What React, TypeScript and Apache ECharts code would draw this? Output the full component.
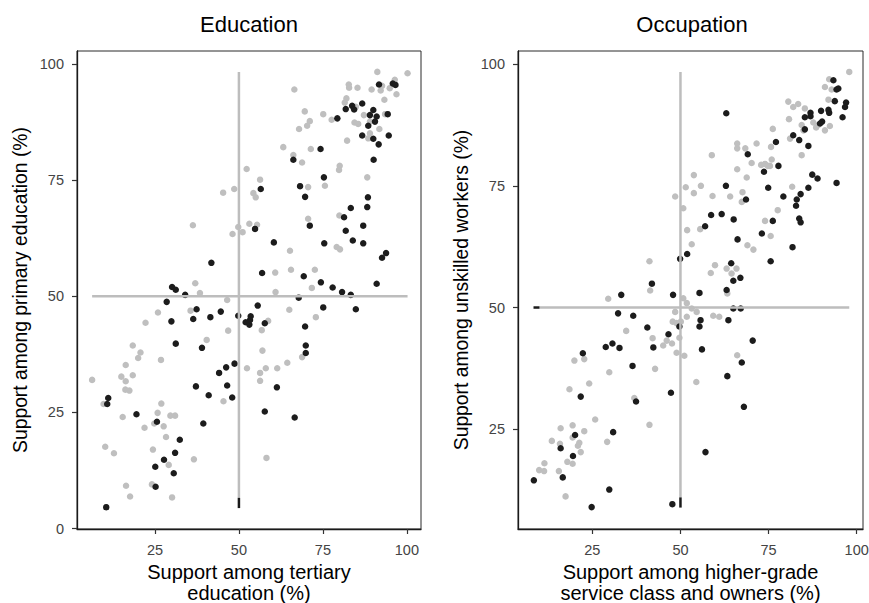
import React, { useEffect, useRef } from "react";
import * as echarts from "echarts";

// [x, y] pairs
const eduGray: number[][] = [
  [91.2,98.3],[100.2,98.0],[66.5,94.5],[82.7,95.6],[82.8,94.9],[85.3,94.9],[89.5,94.5],[92.2,94.3],[92.6,95.3],[96.4,96.6],[96.9,93.5],[94.9,94.8],[93.3,92.3],[82.0,92.6],[81.5,91.7],[84.8,90.8],[69.6,89.8],[75.1,89.2],[77.6,88.0],[71.1,87.7],[70.3,86.7],[67.9,86.0],[84.4,87.4],[85.5,87.1],[87.2,89.0],[89.0,87.6],[91.8,86.0],[93.5,89.2],[89.0,85.1],[88.5,84.0],[82.2,83.5],[63.2,82.1],[71.4,81.7],[66.2,80.4],[68.8,78.8],[52.3,77.4],[56.3,75.1],[48.6,73.1],[45.3,72.3],[54.3,72.2],[55.0,71.3],[70.6,73.5],[75.6,73.8],[80.0,78.1],[79.8,77.2],[88.2,75.6],[79.9,67.4],[70.6,66.7],[53.1,65.6],[55.4,65.4],[49.8,64.9],[48.1,63.4],[51.1,63.8],[36.3,65.3],[79.1,60.6],[80.1,60.1],[65.2,59.8],[60.8,55.1],[65.5,55.7],[72.6,55.7],[37.0,52.8],[38.4,50.7],[60.9,50.9],[71.7,51.8],
  [46.5,49.2],[35.6,46.9],[25.9,46.5],[22.2,44.3],[65.0,47.1],[58.7,44.7],[46.8,42.6],[56.8,42.7],[72.9,45.5],[40.4,40.6],[18.4,39.4],[20.7,37.9],[20.0,36.7],[26.8,36.3],[57.0,38.3],[16.3,35.2],[15.0,32.7],[18.4,33.0],[16.3,31.7],[6.3,32.0],[16.2,29.9],[17.4,29.7],[52.4,34.5],[56.3,33.5],[56.3,31.8],[58.0,34.5],[61.4,34.5],[64.4,35.7],[68.8,36.9],[45.4,27.4],[9.7,26.8],[15.4,24.0],[26.9,26.9],[25.8,24.9],[24.8,22.6],[29.6,24.3],[31.0,24.3],[27.6,22.0],[21.9,21.7],[28.3,19.7],[10.2,17.6],[12.8,16.2],[24.4,17.0],[36.6,14.9],[29.1,13.7],[58.2,15.2],[16.4,9.2],[24.1,9.5],[17.6,6.9],[30.1,6.7]
];
const eduBlack: number[][] = [
  [91.7,95.6],[95.8,95.8],[96.6,95.5],[86.7,91.5],[83.7,91.0],[84.3,90.2],[81.8,90.3],[90.0,90.1],[89.0,89.0],[91.0,88.7],[90.5,87.6],[94.3,89.2],[88.5,86.7],[79.3,88.3],[86.7,84.6],[90.0,83.9],[91.6,82.7],[94.6,84.6],[74.3,81.7],[66.2,79.4],[90.1,79.4],[75.3,75.6],[68.2,73.7],[56.5,73.1],[69.7,71.4],[88.4,71.3],[83.3,69.0],[88.2,69.2],[81.3,67.0],[71.1,65.2],[87.0,65.2],[54.8,64.5],[81.8,64.1],[60.4,61.6],[75.4,61.4],[83.9,62.0],[87.0,61.4],[93.8,59.3],[92.6,58.3],[41.8,57.2],[56.9,55.0],[69.3,54.3],[74.4,53.0],[77.9,51.9],[80.7,50.9],[91.0,52.7],[30.1,52.0],[31.2,51.4],[34.0,50.3],[83.3,50.3],
  [28.5,48.8],[37.4,47.2],[44.6,46.7],[55.6,48.0],[75.1,47.6],[84.8,47.2],[67.8,49.7],[29.9,44.6],[36.4,45.1],[41.5,45.5],[49.8,45.8],[52.0,44.4],[53.1,43.9],[53.5,45.7],[53.3,44.9],[57.7,44.2],[69.7,43.5],[31.2,39.8],[39.0,38.9],[69.9,39.4],[69.9,37.8],[48.7,35.5],[46.2,34.7],[44.1,33.5],[37.2,30.6],[46.5,30.8],[61.3,30.4],[41.0,28.7],[48.0,28.2],[11.1,28.1],[10.8,26.8],[19.5,24.6],[57.7,25.2],[66.6,23.9],[25.6,23.0],[39.4,22.6],[32.4,19.1],[31.0,16.3],[27.7,14.8],[25.1,13.3],[30.6,11.9],[25.2,9.0],[10.5,4.6]
];
const occGray: number[][] = [
  [97.9,98.4],[92.2,96.9],[91.0,95.3],[92.9,94.8],[92.0,92.7],[92.4,87.3],[91.0,86.4],[88.5,87.0],[89.1,87.5],[87.7,88.0],[80.6,92.3],[82.0,91.2],[83.4,91.8],[85.3,90.9],[80.8,88.7],[84.4,87.5],[84.9,86.4],[81.1,84.7],[84.4,81.3],[76.2,86.7],[75.7,83.0],[75.9,80.4],[75.4,79.1],[72.9,79.3],[74.0,79.5],[74.8,79.1],[71.6,83.7],[70.2,79.7],[68.8,76.7],[66.1,83.7],[66.1,82.7],[68.4,82.7],[66.1,78.4],[58.9,81.3],[53.8,77.2],[51.5,74.7],[55.8,75.0],[53.8,73.5],[59.1,72.9],[48.5,72.8],[50.8,70.4],[64.1,72.8],[67.6,73.7],[67.4,71.7],[77.6,70.0],[81.7,74.8],[74.0,67.8],[75.6,64.7],[69.0,62.8],[70.7,61.9],[51.9,65.9],[55.6,66.1],[53.2,63.0],[41.2,59.5],[59.8,58.7],[58.6,57.1],[63.1,58.0],[64.5,57.0],[65.9,58.0],[63.3,52.9],[41.4,53.5],[29.5,51.8],[50.8,51.9],[51.8,50.9],[53.2,49.8],[54.6,49.1],[59.3,48.3],[61.0,48.1],[48.5,49.1],[51.8,48.1],
  [47.8,47.1],[48.9,46.8],[50.1,47.1],[34.6,45.2],[42.1,43.7],[45.1,42.2],[46.1,43.2],[47.6,42.6],[49.7,43.8],[48.9,40.7],[51.1,40.1],[66.1,40.2],[19.9,39.1],[22.7,39.4],[29.8,36.7],[42.8,37.4],[18.5,33.2],[24.1,34.4],[36.9,31.4],[54.5,34.7],[25.8,27.0],[41.2,25.9],[16.0,25.2],[19.4,25.8],[22.7,24.6],[19.4,23.3],[21.3,22.2],[20.9,21.6],[13.5,22.6],[15.8,22.0],[21.7,20.3],[29.2,22.4],[11.4,18.0],[9.9,16.6],[11.3,16.4],[17.9,18.3],[19.4,17.9],[15.5,16.4],[17.4,11.2]
];
const occBlack: number[][] = [
  [93.4,96.7],[94.3,94.8],[94.8,95.0],[93.8,92.4],[97.0,92.1],[96.7,91.2],[96.0,89.1],[89.9,90.4],[92.0,90.6],[92.2,90.0],[86.9,90.0],[86.9,89.3],[85.3,89.1],[90.2,88.2],[89.6,87.8],[85.3,86.6],[82.0,85.4],[83.7,84.4],[86.3,83.2],[77.1,84.0],[69.1,81.5],[77.8,79.1],[73.7,77.9],[63.0,89.9],[62.9,75.0],[74.9,74.6],[68.6,72.2],[79.2,72.8],[83.0,72.2],[82.8,70.9],[84.1,73.3],[86.3,74.6],[87.4,77.3],[88.9,76.5],[94.3,75.6],[83.7,68.3],[84.1,67.5],[76.2,67.8],[73.1,65.2],[81.8,62.4],[75.6,59.5],[58.7,69.0],[61.7,69.2],[65.1,68.1],[57.0,66.7],[66.2,64.0],[51.9,61.0],[49.9,60.0],[64.4,59.1],[67.0,56.1],[65.0,55.5],[63.1,53.6],[55.4,53.0],[47.9,52.6],[41.9,54.9],[33.2,52.6],[65.0,49.8],[67.1,49.8],
  [32.3,48.8],[36.6,48.3],[40.6,45.9],[46.6,44.5],[49.7,46.1],[55.4,46.1],[55.7,47.4],[63.6,47.4],[56.1,41.4],[70.5,43.2],[22.3,40.6],[28.8,41.9],[30.7,42.6],[32.7,41.7],[42.3,41.8],[36.4,38.0],[37.4,30.7],[47.3,32.5],[63.3,35.9],[67.4,38.7],[68.0,29.6],[21.7,31.7],[20.1,23.8],[16.0,21.1],[19.5,19.5],[30.9,24.4],[16.6,15.1],[8.4,14.5],[29.8,12.6],[24.8,9.0],[47.7,9.6],[57.1,20.3]
];

// reference lines (gray) and their short black stubs
const eduVLine = [[50, 6.6], [50, 98.3]];
const eduHLine = [[6.3, 50], [100.2, 50]];
const eduVStub = [[50, 4.4], [50, 6.6]];
const occVLine = [[50, 11], [50, 98.4]];
const occHLine = [[10, 50], [97.9, 50]];
const occVStub = [[50, 8.9], [50, 11]];
const occHStub = [[8.3, 50], [10, 50]];

const eduYTicks = [0, 25, 50, 75, 100];
const xTicks = [25, 50, 75, 100];
const occYTicks = [25, 50, 75, 100];

const titles = ["Education", "Occupation"];
const FONT = "'Liberation Sans', Arial, Helvetica, sans-serif";

function axis(base: any, ticks: number[], extra: any, nameSize: number) {
  return {
    type: "value",
    ...base,
    axisLine: { show: true, onZero: false, lineStyle: { color: "#1a1a1a", width: 1.3 } },
    axisTick: { show: true, length: 5, customValues: ticks, lineStyle: { color: "#333", width: 1.2 } },
    axisLabel: { customValues: ticks, fontSize: 14.5, color: "#444", fontFamily: FONT, margin: 13 },
    splitLine: { show: false },
    nameLocation: "middle",
    nameTextStyle: { fontSize: nameSize, color: "#000", fontFamily: FONT, lineHeight: 21 },
    ...extra,
  };
}

export default function App() {
  const ref = useRef<HTMLDivElement>(null);
  useEffect(() => {
    const chart = echarts.init(ref.current!, null, { renderer: "svg" });
    const pts = (data: number[][], color: string, idx: number) => ({
      type: "scatter", xAxisIndex: idx, yAxisIndex: idx, data, symbolSize: 6.5,
      itemStyle: { color, opacity: 1 }, z: color === "#1c1c1c" ? 3 : 2, silent: true,
    });
    const ln = (data: number[][], color: string, idx: number, w: number) => ({
      type: "line", xAxisIndex: idx, yAxisIndex: idx, data, symbol: "none",
      lineStyle: { color, width: w }, z: 4, silent: true,
    });
    chart.setOption({
      animation: false,
      grid: [
        { left: 77, top: 51, width: 344, height: 478, show: true, borderColor: "#2a2a2a", borderWidth: 1, outerBoundsMode: "none", containLabel: false },
        { left: 518, top: 51, width: 345, height: 478, show: true, borderColor: "#2a2a2a", borderWidth: 1, outerBoundsMode: "none", containLabel: false },
      ],
      xAxis: [
        axis({ gridIndex: 0, min: 1.8, max: 104.2 }, xTicks, { name: "Support among tertiary\neducation (%)", nameGap: 31 }, 20),
        axis({ gridIndex: 1, min: 3.9, max: 101.8 }, xTicks, { name: "Support among higher-grade\nservice class and owners (%)", nameGap: 31 }, 20),
      ],
      yAxis: [
        axis({ gridIndex: 0, min: -0.1, max: 102.8 }, eduYTicks, { name: "Support among primary education (%)", nameGap: 46 }, 19.3),
        axis({ gridIndex: 1, min: 4.5, max: 102.7 }, occYTicks, { name: "Support among unskilled workers (%)", nameGap: 46 }, 19.3),
      ],
      graphic: [
        { type: "text", x: 249, y: 24, style: { text: titles[0], fontSize: 22, fontFamily: FONT, fill: "#000", textAlign: "center", textVerticalAlign: "middle" } },
        { type: "text", x: 692, y: 24, style: { text: titles[1], fontSize: 22, fontFamily: FONT, fill: "#000", textAlign: "center", textVerticalAlign: "middle" } },
      ],
      series: [
        pts(eduGray, "#bfbfbf", 0),
        pts(eduBlack, "#1c1c1c", 0),
        pts(occGray, "#bfbfbf", 1),
        pts(occBlack, "#1c1c1c", 1),
        ln(eduVLine, "#bdbdbd", 0, 2.5),
        ln(eduHLine, "#bdbdbd", 0, 2.5),
        ln(eduVStub, "#1a1a1a", 0, 2.5),
        ln(occVLine, "#bdbdbd", 1, 2.5),
        ln(occHLine, "#bdbdbd", 1, 2.5),
        ln(occVStub, "#1a1a1a", 1, 2.5),
        ln(occHStub, "#1a1a1a", 1, 2.5),
      ],
    });
    return () => chart.dispose();
  }, []);
  return (
    <div
      ref={ref}
      style={{ position: "absolute", left: 0, top: 0, width: 869, height: 603, background: "#fff" }}
    />
  );
}
